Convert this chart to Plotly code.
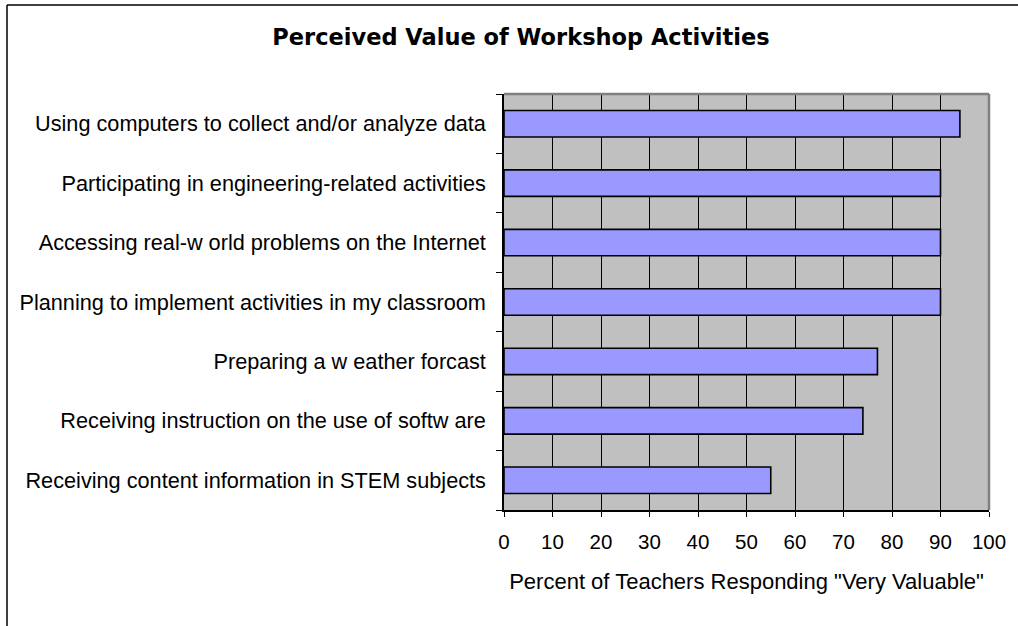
import plotly.graph_objects as go

categories = [
    "Receiving content information in STEM subjects",
    "Receiving instruction on the use of softw are",
    "Preparing a w eather forcast",
    "Planning to implement activities in my classroom",
    "Accessing real-w orld problems on the Internet",
    "Participating in engineering-related activities",
    "Using computers to collect and/or analyze data",
]
values = [55, 74, 77, 90, 90, 90, 94]
x_ticks = list(range(0, 101, 10))

FONT = "Arial, Liberation Sans, sans-serif"
TITLE_FONT = "DejaVu Sans, Arial, sans-serif"

fig = go.Figure()
fig.add_trace(go.Bar(
    y=categories, x=values, orientation="h",
    marker=dict(color="#9999FF", line=dict(color="black", width=1.6)),
    showlegend=False, hoverinfo="x+y",
))

L, R, T, B = 504, 29, 94, 116
W, H = 1018, 626
pw, ph = W - L - R, H - T - B

fig.update_layout(
    width=W, height=H,
    margin=dict(l=L, r=R, t=T, b=B, pad=0),
    paper_bgcolor="white",
    plot_bgcolor="#C0C0C0",
    bargap=0.555,
    font=dict(family=FONT, color="black", size=21),
    title=dict(text="<b>Perceived Value of Workshop Activities</b>",
               x=521 / W, xref="container", xanchor="center",
               y=1 - 37 / H, yref="container", yanchor="middle",
               font=dict(size=22.5, family=TITLE_FONT, color="black")),
    xaxis=dict(
        range=[0, 100], tickvals=x_ticks, ticktext=[str(v) for v in x_ticks],
        showgrid=True, gridcolor="black", gridwidth=1,
        showline=True, linecolor="black", linewidth=1.5,
        ticks="outside", ticklen=5, tickcolor="black", tickwidth=1,
        ticklabelstandoff=8,
        tickfont=dict(size=20.5, family=FONT),
        title=dict(text='Percent of Teachers Responding "Very Valuable"',
                   font=dict(size=22, family=FONT), standoff=21),
        zeroline=False, fixedrange=True,
    ),
    yaxis=dict(
        type="category", categoryorder="array", categoryarray=categories,
        showgrid=False,
        showline=True, linecolor="black", linewidth=1.5,
        ticks="outside", ticklen=6, tickcolor="black", tickwidth=1,
        tickson="boundaries",
        ticklabelstandoff=12,
        tickfont=dict(size=21.7, family=FONT),
        zeroline=False, fixedrange=True,
    ),
)

# gray plot-area border (top and right)
fig.add_shape(type="line", xref="paper", yref="paper", x0=0, x1=1, y0=1, y1=1,
              line=dict(color="#808080", width=2.5), layer="above")
fig.add_shape(type="line", xref="paper", yref="paper", x0=1, x1=1, y0=0, y1=1,
              line=dict(color="#808080", width=2.5), layer="above")

# outer chart border (left and top visible)
bx = (7 - L) / pw
by = (H - B - 5) / ph
fig.add_shape(type="line", xref="paper", yref="paper", x0=bx, x1=(W + 10 - L) / pw,
              y0=by, y1=by, line=dict(color="black", width=1.5), layer="above")
fig.add_shape(type="line", xref="paper", yref="paper", x0=bx, x1=bx,
              y0=by, y1=(H - B - (H + 10)) / ph, line=dict(color="black", width=1.5), layer="above")

fig.write_html("out.html",
               config={"displayModeBar": False},
               post_script="document.body.style.margin='0';document.body.style.padding='0';")
